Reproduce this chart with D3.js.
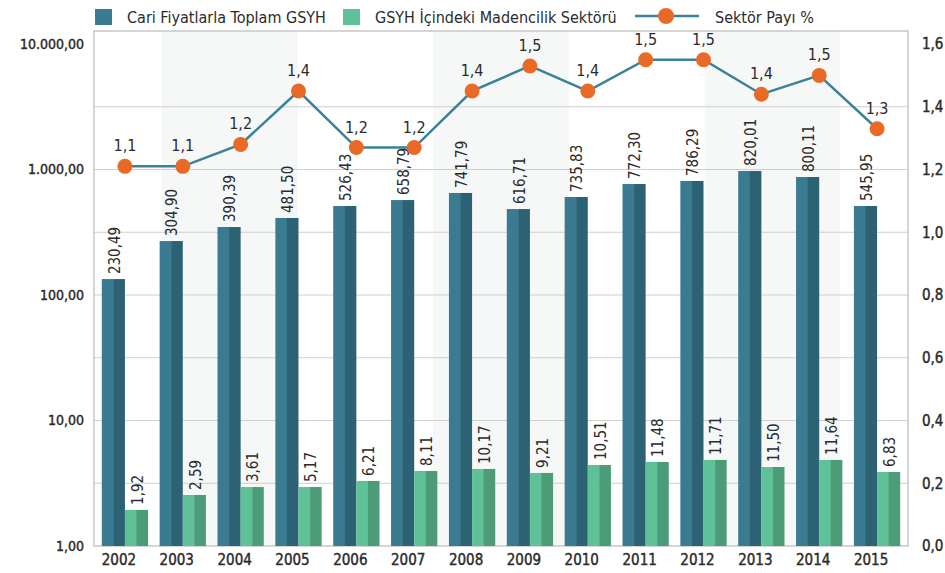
<!DOCTYPE html>
<html>
<head>
<meta charset="utf-8">
<script src="https://cdn.jsdelivr.net/npm/d3@7/dist/d3.min.js"></script>
<style>
  body { margin: 0; background: #fff; }
  svg text { font-family: "DejaVu Sans Condensed", "DejaVu Sans", sans-serif; fill: #2b2b2b; }
  svg text.axis { fill: #2a2a2a; stroke: #2a2a2a; stroke-width: 0.4px; }
</style>
</head>
<body>
<div id="chart"></div>
<script>
// data
var years = ["2002","2003","2004","2005","2006","2007","2008","2009","2010","2011","2012","2013","2014","2015"];
// printed values on the bars
var gsyhLabels  = [230.49, 304.90, 390.39, 481.50, 526.43, 658.79, 741.79, 616.71, 735.83, 772.30, 786.29, 820.01, 800.11, 545.95];
var madenLabels = [1.92, 2.59, 3.61, 5.17, 6.21, 8.11, 10.17, 9.21, 10.51, 11.48, 11.71, 11.50, 11.64, 6.83];
// bar heights as drawn
var gsyhBars  = [134, 269, 348, 411, 512, 571, 650, 484, 604, 766, 810, 973, 871, 512];
var madenBars = [1.94, 2.55, 2.95, 2.95, 3.30, 3.96, 4.11, 3.82, 4.42, 4.67, 4.85, 4.26, 4.85, 3.89];
// sector share line (positions) and its printed labels
var payPoints = [1.21, 1.21, 1.28, 1.45, 1.27, 1.27, 1.45, 1.53, 1.45, 1.55, 1.55, 1.44, 1.50, 1.33];
var payLabels = [1.1, 1.1, 1.2, 1.4, 1.2, 1.2, 1.4, 1.5, 1.4, 1.5, 1.5, 1.4, 1.5, 1.3];
var leftTicks  = [1, 10, 100, 1000, 10000];
var rightTicks = [0, 0.2, 0.4, 0.6, 0.8, 1.0, 1.2, 1.4, 1.6];
var seriesNames = ["Cari Fiyatlarla Toplam GSYH", "GSYH İçindeki Madencilik Sektörü", "Sektör Payı %"];

var width = 945, height = 573;
var plot = {left: 94, right: 908, top: 31, bottom: 546};

var tr = d3.formatLocale({decimal: ",", thousands: ".", grouping: [3], currency: ["", ""]});
var fmt2 = tr.format(",.2f"), fmt1 = tr.format(",.1f");

var svg = d3.select("#chart").append("svg")
    .attr("width", width)
    .attr("height", height);

// scales
var x = d3.scaleBand().domain(years).range([plot.left + 2, plot.right - 2]).paddingInner(0.2).paddingOuter(0.1);
var xSub = d3.scaleBand().domain(["gsyh", "maden"]).range([0, x.bandwidth()]);
var yLeft = d3.scaleLog().domain([1, 10000]).range([plot.bottom, 44]);
var yRight = d3.scaleLinear().domain([0, 1.6]).range([plot.bottom, 44]);
var stripe = d3.scaleLinear().domain([0, 6]).range([plot.left, plot.right]);

var colors = {
  gsyh: ["#3a7b91", "#2c6274"],
  maden: ["#5fc197", "#4d9c78"],
  line: "#3b8197",
  dot: "#e96a27",
  grid: "#cfcfcf"
};

// background stripes
svg.selectAll(".stripe")
    .data([0.5, 2.5, 4.5])
  .enter().append("rect")
    .attr("x", function(d) { return stripe(d); })
    .attr("y", plot.top)
    .attr("width", function(d) { return stripe(d + 1) - stripe(d); })
    .attr("height", plot.bottom - plot.top)
    .style("fill", "#f6f8f8");

// gridlines
svg.selectAll(".grid")
    .data(rightTicks.filter(function(d) { return d > 0 && d < 1.6; }))
  .enter().append("line")
    .attr("x1", plot.left).attr("x2", plot.right)
    .attr("y1", function(d) { return yRight(d); })
    .attr("y2", function(d) { return yRight(d); })
    .style("stroke", colors.grid)
    .style("stroke-width", 1.2);

// frame
svg.append("rect")
    .attr("x", plot.left).attr("y", plot.top)
    .attr("width", plot.right - plot.left)
    .attr("height", plot.bottom - plot.top)
    .style("fill", "none")
    .style("stroke", "#c8c8c8")
    .style("stroke-width", 1.5);

// two-tone bars
function drawBars(key, values) {
  var g = svg.append("g").attr("class", "bars-" + key);
  years.forEach(function(yr, i) {
    var x0 = x(yr) + xSub(key), w = xSub.bandwidth(), top = yLeft(values[i]);
    g.append("rect")
        .attr("x", x0).attr("y", top)
        .attr("width", w / 2 + 0.5).attr("height", plot.bottom - top)
        .style("fill", colors[key][0]);
    g.append("rect")
        .attr("x", x0 + w / 2).attr("y", top)
        .attr("width", w / 2).attr("height", plot.bottom - top)
        .style("fill", colors[key][1]);
  });
}
drawBars("gsyh", gsyhBars);
drawBars("maden", madenBars);

// bar value labels
function barLabels(key, bars, labels) {
  svg.selectAll(".lbl-" + key)
      .data(years)
    .enter().append("text")
      .attr("transform", function(d, i) {
        return "translate(" + (x(d) + xSub(key) + xSub.bandwidth() / 2 + 1) + "," + (yLeft(bars[i]) - 5) + ") rotate(-90)";
      })
      .attr("dy", "0.35em")
      .style("font-size", "15px")
      .style("text-anchor", "start")
      .text(function(d, i) { return fmt2(labels[i]); });
}
barLabels("gsyh", gsyhBars, gsyhLabels);
barLabels("maden", madenBars, madenLabels);

// share line
var line = d3.line()
    .x(function(d, i) { return x(years[i]) + x.bandwidth() / 2; })
    .y(function(d) { return yRight(d); });

svg.append("path")
    .datum(payPoints)
    .attr("d", line)
    .style("fill", "none")
    .style("stroke", colors.line)
    .style("stroke-width", 2.5);

svg.selectAll(".dot")
    .data(payPoints)
  .enter().append("circle")
    .attr("cx", function(d, i) { return x(years[i]) + x.bandwidth() / 2; })
    .attr("cy", function(d) { return yRight(d); })
    .attr("r", 7.5)
    .style("fill", colors.dot);

svg.selectAll(".dotlbl")
    .data(payPoints)
  .enter().append("text")
    .attr("x", function(d, i) { return x(years[i]) + x.bandwidth() / 2; })
    .attr("y", function(d) { return yRight(d) - 15; })
    .style("text-anchor", "middle")
    .style("font-size", "16px")
    .text(function(d, i) { return fmt1(payLabels[i]); });

// axes
svg.selectAll(".ltick")
    .data(leftTicks)
  .enter().append("text")
    .attr("class", "axis")
    .attr("x", plot.left - 10)
    .attr("y", function(d) { return yLeft(d); })
    .attr("dy", "0.35em")
    .style("text-anchor", "end")
    .style("font-size", "14px")
    .text(function(d) { return fmt2(d); });

svg.selectAll(".rtick")
    .data(rightTicks)
  .enter().append("text")
    .attr("class", "axis")
    .attr("x", plot.right + 14)
    .attr("y", function(d) { return yRight(d); })
    .attr("dy", "0.35em")
    .style("text-anchor", "start")
    .style("font-size", "15px")
    .text(function(d) { return fmt1(d); });

svg.selectAll(".xtick")
    .data(years)
  .enter().append("text")
    .attr("class", "axis")
    .attr("x", function(d) { return x(d) + x.bandwidth() / 2 - 6; })
    .attr("y", plot.bottom + 19)
    .style("text-anchor", "middle")
    .style("font-size", "15px")
    .text(function(d) { return d; });

// legend
var legend = svg.append("g").attr("class", "legend");
legend.append("rect").attr("x", 95).attr("y", 9).attr("width", 17).attr("height", 16).style("fill", colors.gsyh[0]);
legend.append("text").attr("x", 127).attr("y", 17).attr("dy", "0.35em").style("font-size", "16px").text(seriesNames[0]);
legend.append("rect").attr("x", 343).attr("y", 9).attr("width", 17).attr("height", 16).style("fill", colors.maden[0]);
legend.append("text").attr("x", 375).attr("y", 17).attr("dy", "0.35em").style("font-size", "16px").text(seriesNames[1]);
legend.append("line").attr("x1", 635).attr("x2", 699).attr("y1", 16).attr("y2", 16)
    .style("stroke", colors.line).style("stroke-width", 2.5);
legend.append("circle").attr("cx", 666).attr("cy", 16).attr("r", 8).style("fill", colors.dot);
legend.append("text").attr("x", 715).attr("y", 17).attr("dy", "0.35em").style("font-size", "16px").text(seriesNames[2]);
</script>
</body>
</html>
